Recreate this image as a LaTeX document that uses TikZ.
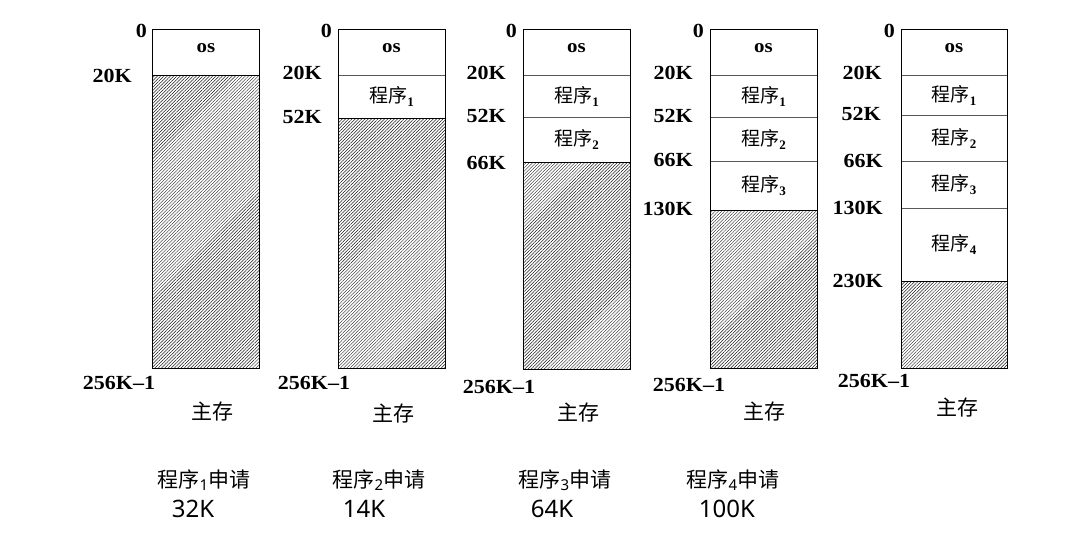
\documentclass[tikz,border=0pt]{standalone}
\usepackage{fontspec}
\setmainfont{Liberation Serif}
\newfontfamily\addrfont[FakeStretch=1.1,Ligatures=TeX]{Liberation Serif Bold}
\newfontfamily\cjk{Noto Sans CJK SC}
\newfontfamily\lsans{Noto Sans}
\usetikzlibrary{patterns.meta}
\newcommand\mysub[1]{\raisebox{-4pt}{\fontsize{13}{13}\selectfont\bfseries #1}}
\newcommand\mybsub[1]{\raisebox{-3pt}{\lsans\fontsize{15}{15}\selectfont #1}}
\newcommand\prog[1]{{\cjk\fontsize{19}{19}\selectfont 程序}\mysub{#1}}
\newcommand\oslabel{\raisebox{8pt}{\addrfont\fontsize{19}{19}\selectfont os}}
\tikzset{
  seg/.style={draw=black!65, line width=0.7pt, minimum width=107pt, inner sep=0pt, fill=white},
  hatch/.style={draw=black, line width=0.8pt, minimum width=107pt, inner sep=0pt,
    pattern={Lines[angle=45, distance=2.3pt, line width=0.45pt]}, pattern color=black!90},
  frame/.style={draw=black, line width=0.9pt, minimum width=107pt, minimum height=339pt, inner sep=0pt},
  addr/.style={font=\addrfont\fontsize{20}{20}\selectfont, anchor=east, inner sep=0pt},
  mem/.style={font=\cjk\fontsize{21}{21}\selectfont, inner sep=0pt},
  req/.style={font=\cjk\fontsize{21}{21}\selectfont, inner sep=0pt},
  size/.style={font=\lsans\fontsize{24}{24}\selectfont, inner sep=0pt}
}
\begin{document}
\begin{tikzpicture}[x=1pt,y=-1pt]
\useasboundingbox (0,0) rectangle (1081,536);
% ---------- column 1 ----------
\node[seg, minimum height=46pt] (a0) at (206,52) {\oslabel};
\node[hatch, minimum height=293pt] (ah) at (206,221.5) {};
\node[frame] (af) at (206,198.5) {};
\node[addr] (a0l) at (147,31) {0};
\node[addr] (a20) at (132,76) {20K};
\node[addr, anchor=center] (aend) at (119,383) {256K–1};
\node[mem] (amem) at (212,412) {主存};
% ---------- column 2 ----------
\node[seg, minimum height=46pt] (b0) at (391.5,52) {\oslabel};
\node[seg, minimum height=43pt] (b1) at (391.5,96.5) {\prog{1}};
\node[hatch, minimum height=250pt] (bh) at (391.5,243) {};
\node[frame] (bf) at (391.5,198.5) {};
\node[addr] (b0l) at (332,31) {0};
\node[addr] (b20) at (322,73) {20K};
\node[addr] (b52) at (322,117) {52K};
\node[addr, anchor=center] (bend) at (314,383) {256K–1};
\node[mem] (bmem) at (393,414) {主存};
% ---------- column 3 ----------
\node[seg, minimum height=46pt] (c0) at (576.5,52) {\oslabel};
\node[seg, minimum height=42pt] (c1) at (576.5,96) {\prog{1}};
\node[seg, minimum height=45pt] (c2) at (576.5,139.5) {\prog{2}};
\node[hatch, minimum height=207pt] (ch) at (576.5,265.5) {};
\node[frame, minimum height=340pt] (cf) at (576.5,199) {};
\node[addr] (c0l) at (517,31) {0};
\node[addr] (c20) at (506,73) {20K};
\node[addr] (c52) at (506,116) {52K};
\node[addr] (c66) at (506,163) {66K};
\node[addr, anchor=center] (cend) at (499,387) {256K–1};
\node[mem] (cmem) at (578,413) {主存};
% ---------- column 4 ----------
\node[seg, minimum height=46pt] (d0) at (763.5,52) {\oslabel};
\node[seg, minimum height=42pt] (d1) at (763.5,96) {\prog{1}};
\node[seg, minimum height=44pt] (d2) at (763.5,139) {\prog{2}};
\node[seg, minimum height=49pt] (d3) at (763.5,185.5) {\prog{3}};
\node[hatch, minimum height=158pt] (dh) at (763.5,289) {};
\node[frame] (df) at (763.5,198.5) {};
\node[addr] (d0l) at (704,31) {0};
\node[addr] (d20) at (693,73) {20K};
\node[addr] (d52) at (693,116) {52K};
\node[addr] (d66) at (693,160) {66K};
\node[addr] (d130) at (693,209) {130K};
\node[addr, anchor=center] (dend) at (689,385) {256K–1};
\node[mem] (dmem) at (764,412) {主存};
% ---------- column 5 ----------
\node[seg, minimum width=106pt, minimum height=46pt] (e0) at (954,52) {\oslabel};
\node[seg, minimum width=106pt, minimum height=40pt] (e1) at (954,95) {\prog{1}};
\node[seg, minimum width=106pt, minimum height=46pt] (e2) at (954,138) {\prog{2}};
\node[seg, minimum width=106pt, minimum height=47pt] (e3) at (954,184.5) {\prog{3}};
\node[seg, minimum width=106pt, minimum height=73pt] (e4) at (954,244.5) {\prog{4}};
\node[hatch, minimum width=106pt, minimum height=87pt] (eh) at (954,324.5) {};
\node[frame, minimum width=106pt] (ef) at (954,198.5) {};
\node[addr] (e0l) at (895,31) {0};
\node[addr] (e20) at (882,73) {20K};
\node[addr] (e52) at (881,114) {52K};
\node[addr] (e66) at (883,161) {66K};
\node[addr] (e130) at (883,208) {130K};
\node[addr] (e230) at (883,281) {230K};
\node[addr, anchor=center] (eend) at (874,381) {256K–1};
\node[mem] (emem) at (957,408) {主存};
% ---------- requests ----------
\node[req] (r1) at (204,480) {程序\mybsub{1}申请};
\node[size] (s1) at (193,509) {32K};
\node[req] (r2) at (379,480) {程序\mybsub{2}申请};
\node[size] (s2) at (364,509) {14K};
\node[req] (r3) at (565,480) {程序\mybsub{3}申请};
\node[size] (s3) at (552,509) {64K};
\node[req] (r4) at (733,480) {程序\mybsub{4}申请};
\node[size] (s4) at (727,509) {100K};
\end{tikzpicture}
\end{document}
